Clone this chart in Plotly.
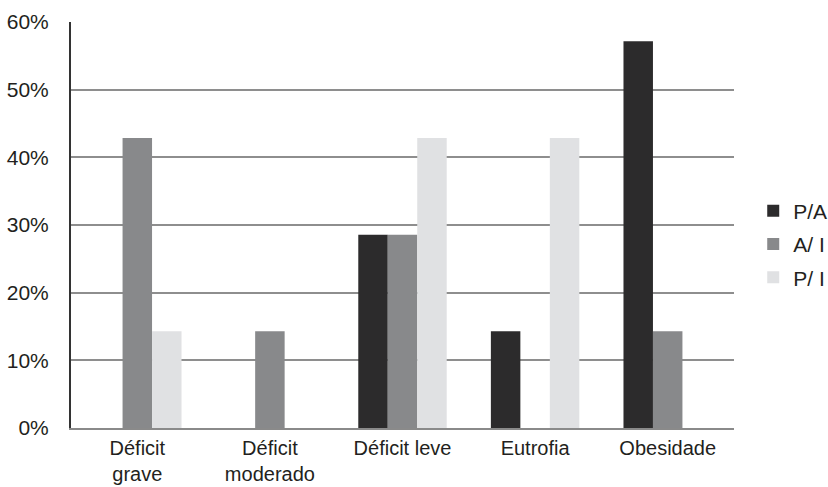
import plotly.graph_objects as go

categories = ["Déficit<br>grave", "Déficit<br>moderado", "Déficit leve", "Eutrofia", "Obesidade"]
p_a = [0, 0, 28.57, 14.29, 57.14]
a_i = [42.86, 14.29, 28.57, 0, 14.29]
p_i = [14.29, 0, 42.86, 42.86, 0]
series_names = ["P/A", "A/ I", "P/ I"]
series_colors = ["#2c2b2c", "#88898b", "#e0e1e3"]
y_ticks = [0, 10, 20, 30, 40, 50, 60]
y_tick_labels = [f"{v}%" for v in y_ticks]

font = dict(family="Liberation Sans, Arial, sans-serif", size=21, color="#231f20")
xfont = dict(family="Liberation Sans, Arial, sans-serif", size=20, color="#231f20")

fig = go.Figure()
for name, vals, col in zip(series_names, [p_a, a_i, p_i], series_colors):
    fig.add_trace(go.Bar(x=categories, y=vals, name=name, legendgroup=name,
                         marker=dict(color=col, line=dict(width=0))))

fig.update_layout(
    width=828, height=487,
    margin=dict(l=71, r=94, t=22, b=59, autoexpand=False),
    paper_bgcolor="white", plot_bgcolor="white",
    font=font,
    barmode="group", bargap=0.333, bargroupgap=0,
    legend=dict(x=1.029, y=0.453, xanchor="left", yanchor="middle",
                font=dict(size=21), tracegroupgap=3, itemwidth=30,
                bgcolor="rgba(0,0,0,0)"),
    xaxis=dict(showgrid=False, showline=True, linecolor="#8a8a8a", linewidth=2,
               ticks="", ticklabelstandoff=1, tickfont=xfont),
    yaxis=dict(range=[0, 60], tickmode="array", tickvals=y_ticks, ticktext=y_tick_labels,
               showgrid=True, gridcolor="#8e8e8e", gridwidth=2,
               showline=True, linecolor="#333333", linewidth=2,
               zeroline=False, ticks="", ticklabelstandoff=16, tickfont=font),
)

fig.write_html("out.html")
